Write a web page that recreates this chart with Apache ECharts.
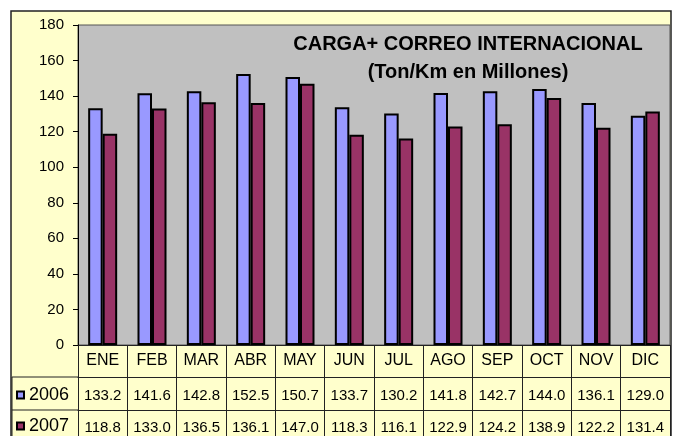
<!DOCTYPE html>
<html>
<head>
<meta charset="utf-8">
<script src="https://cdn.jsdelivr.net/npm/echarts@6/dist/echarts.min.js"></script>
<style>
  html, body { margin: 0; padding: 0; background: #fff; }
  #chart { width: 674px; height: 436px; }
</style>
</head>
<body>
<div id="chart"></div>
<script>
// datos
const months = ['ENE', 'FEB', 'MAR', 'ABR', 'MAY', 'JUN', 'JUL', 'AGO', 'SEP', 'OCT', 'NOV', 'DIC']
const values2006 = [133.2, 141.6, 142.8, 152.5, 150.7, 133.7, 130.2, 141.8, 142.7, 144.0, 136.1, 129.0]
const values2007 = [118.8, 133.0, 136.5, 136.1, 147.0, 118.3, 116.1, 122.9, 124.2, 138.9, 122.2, 131.4]
const yTicks = [0, 20, 40, 60, 80, 100, 120, 140, 160, 180]

const font = '"Liberation Sans", Arial, sans-serif'

const chart = echarts.init(document.getElementById('chart'))

// eje de la tabla de datos (una fila por eje)
function tableAxis(offset, tickLen, margin, size, formatter) {
    return {
        type: 'category',
        gridIndex: 0,
        position: 'bottom',
        offset: offset,
        data: months,
        axisLine: { show: true, lineStyle: { color: '#222', width: 1 } },
        axisTick: { show: true, length: tickLen, interval: 0, lineStyle: { color: '#222', width: 1 } },
        axisLabel: {
            interval: 0,
            margin: margin,
            color: '#000',
            fontFamily: font,
            fontSize: size,
            formatter: formatter
        },
        splitLine: { show: false }
    }
}

const option = {
    animation: false,
    backgroundColor: '#fff',
    textStyle: { fontFamily: font },
    title: {
        text: 'CARGA+ CORREO INTERNACIONAL\n(Ton/Km en Millones)',
        left: 463,
        top: 25,
        textAlign: 'center',
        textStyle: {
            fontFamily: font,
            fontSize: 20,
            fontWeight: 'bold',
            color: '#000',
            lineHeight: 28
        }
    },
    legend: {
        data: ['2006', '2007'],
        orient: 'vertical',
        left: 16,
        top: 386,
        padding: 0,
        itemWidth: 7,
        itemHeight: 7,
        itemGap: 13,
        icon: 'rect',
        textStyle: { fontFamily: font, fontSize: 18, color: '#000' }
    },
    grid: {
        left: 78,
        top: 25,
        right: 4,
        bottom: 91,
        show: true,
        backgroundColor: '#C0C0C0',
        borderColor: '#555',
        borderWidth: 1
    },
    graphic: [
        {
            type: 'rect',
            z: -10,
            shape: { x: 11, y: 11, width: 660, height: 440 },
            style: { fill: '#FFFFCC', stroke: '#222', lineWidth: 1.5 }
        },
        {
            type: 'polyline',
            z: 10,
            shape: { points: [[78, 377], [12, 377], [12, 440]] },
            style: { fill: null, stroke: '#222', lineWidth: 1 }
        },
        {
            type: 'line',
            z: 10,
            shape: { x1: 12, y1: 410, x2: 78, y2: 410 },
            style: { stroke: '#222', lineWidth: 1 }
        }
    ],
    xAxis: [
        tableAxis(0, 32, 8, 16, null),
        tableAxis(32, 33, 11, 15, function (v, i) { return values2006[i].toFixed(1) }),
        tableAxis(65, 36, 10, 15, function (v, i) { return values2007[i].toFixed(1) })
    ],
    yAxis: {
        type: 'value',
        min: yTicks[0],
        max: yTicks[yTicks.length - 1],
        interval: yTicks[1] - yTicks[0],
        axisLine: { show: true, lineStyle: { color: '#000', width: 1 } },
        axisTick: { show: true, length: 5, lineStyle: { color: '#000' } },
        axisLabel: { color: '#000', fontFamily: font, fontSize: 15, margin: 14 },
        splitLine: { show: false }
    },
    series: [
        {
            name: '2006',
            type: 'bar',
            xAxisIndex: 0,
            barWidth: 14.5,
            barGap: '0%',
            data: values2006,
            itemStyle: { color: '#9999FF', borderColor: '#000', borderWidth: 2 }
        },
        {
            name: '2007',
            type: 'bar',
            xAxisIndex: 0,
            barWidth: 14.5,
            data: values2007,
            itemStyle: { color: '#993366', borderColor: '#000', borderWidth: 2 }
        }
    ]
}

chart.setOption(option)
</script>
</body>
</html>
